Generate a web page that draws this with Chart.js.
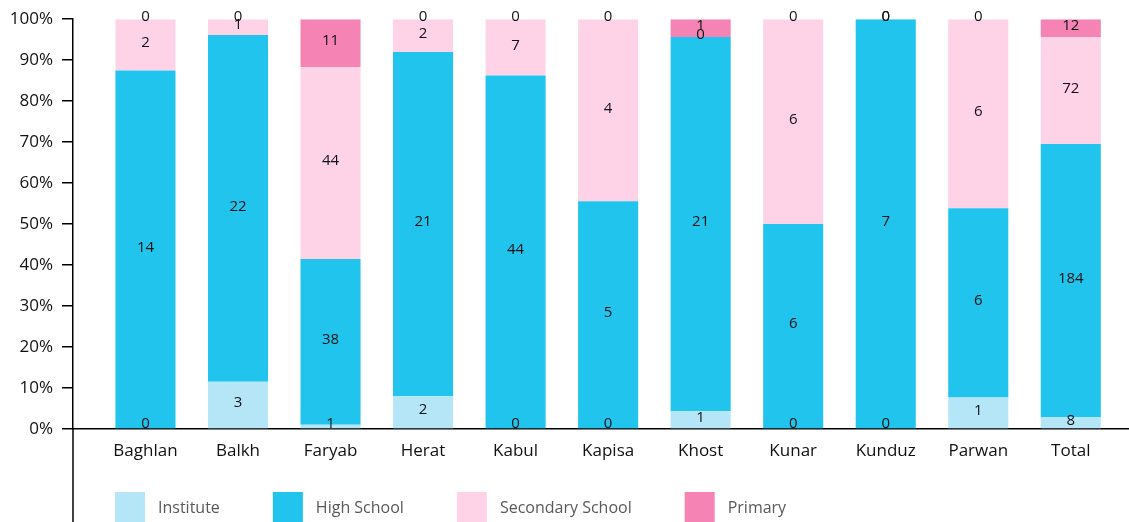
<!DOCTYPE html>
<html lang="en">
<head>
    <meta charset="UTF-8">
    <meta name="viewport" content="width=device-width, initial-scale=1.0">
    <title>Education Level by Province</title>
    <style>
        html, body {
            margin: 0;
            padding: 0;
            background-color: #ffffff;
            overflow: hidden;
        }
        .chart-container {
            position: relative;
            width: 1129px;
            height: 522px;
        }
    </style>
</head>
<body>

    <div class="chart-container">
        <canvas id="eduChart"></canvas>
    </div>

    <script src="https://cdn.jsdelivr.net/npm/chart.js"></script>
    <script>
        // Categories and counts
        const provinces = ['Baghlan', 'Balkh', 'Faryab', 'Herat', 'Kabul', 'Kapisa', 'Khost', 'Kunar', 'Kunduz', 'Parwan', 'Total'];
        const institute = [0, 3, 1, 2, 0, 0, 1, 0, 0, 1, 8];
        const highSchool = [14, 22, 38, 21, 44, 5, 21, 6, 7, 6, 184];
        const secondarySchool = [2, 1, 44, 2, 7, 4, 0, 6, 0, 6, 72];
        const primary = [0, 0, 11, 0, 0, 0, 1, 0, 0, 0, 12];
        const yTicks = [0, 10, 20, 30, 40, 50, 60, 70, 80, 90, 100];

        const seriesNames = ['Institute', 'High School', 'Secondary School', 'Primary'];
        const seriesColors = ['#b5e6f8', '#21c4ed', '#ffd3e7', '#f584b4'];
        const series = [institute, highSchool, secondarySchool, primary];

        // Column totals for the 100% stack
        const totals = provinces.map((p, i) => series.reduce((sum, s) => sum + s[i], 0));

        const datasets = series.map((values, k) => ({
            label: seriesNames[k],
            data: values.map((v, i) => ({ x: i, y: v / totals[i] * 100 })),
            backgroundColor: seriesColors[k],
            borderWidth: 0,
            barPercentage: 0.649,
            categoryPercentage: 1
        }));

        Chart.defaults.font.family = "'Open Sans', sans-serif";

        // Count labels in the middle of each segment
        const countLabels = {
            id: 'countLabels',
            afterDatasetsDraw(chart) {
                const ctx = chart.ctx;
                const area = chart.chartArea;
                ctx.save();
                ctx.font = "15px 'Open Sans', sans-serif";
                ctx.fillStyle = '#111111';
                ctx.textAlign = 'center';
                ctx.textBaseline = 'middle';
                chart.data.datasets.forEach((ds, k) => {
                    const meta = chart.getDatasetMeta(k);
                    meta.data.forEach((bar, i) => {
                        const p = bar.getProps(['x', 'y', 'base'], true);
                        let cy = (p.y + p.base) / 2 - 2;
                        cy = Math.min(cy, area.bottom - 5);
                        ctx.fillText(String(series[k][i]), p.x, cy);
                    });
                });
                ctx.restore();
            }
        };

        // Y axis line runs on past the plot to the bottom edge, legend sits under the labels
        const axisAndLegend = {
            id: 'axisAndLegend',
            afterDraw(chart) {
                const ctx = chart.ctx;
                const area = chart.chartArea;
                ctx.save();
                ctx.strokeStyle = '#000000';
                ctx.lineWidth = 1.5;
                ctx.beginPath();
                ctx.moveTo(area.left, area.bottom);
                ctx.lineTo(area.left, chart.height);
                ctx.stroke();

                ctx.font = "16px 'Open Sans', sans-serif";
                ctx.textBaseline = 'middle';
                ctx.textAlign = 'left';
                let x = 115;
                const y = 492;
                chart.data.datasets.forEach(ds => {
                    ctx.fillStyle = ds.backgroundColor;
                    ctx.fillRect(x, y, 30, 30);
                    ctx.fillStyle = '#595959';
                    ctx.fillText(ds.label, x + 43, y + 16);
                    x += 43 + ctx.measureText(ds.label).width + 53;
                });
                ctx.restore();
            }
        };

        const ctx = document.getElementById('eduChart').getContext('2d');
        new Chart(ctx, {
            type: 'bar',
            data: { datasets: datasets },
            options: {
                responsive: true,
                maintainAspectRatio: false,
                animation: false,
                layout: {
                    padding: { top: 17, right: 0, bottom: 43, left: 0 }
                },
                plugins: {
                    legend: { display: false },
                    tooltip: { enabled: false }
                },
                scales: {
                    x: {
                        type: 'linear',
                        stacked: true,
                        offset: false,
                        bounds: 'data',
                        min: -0.783,
                        max: 10.629,
                        afterBuildTicks: scale => {
                            scale.ticks = provinces.map((p, i) => ({ value: i }));
                        },
                        afterFit: scale => {
                            scale.height = 50;
                        },
                        grid: { display: false },
                        border: { display: true, color: '#000000', width: 1.5 },
                        ticks: {
                            padding: 4,
                            color: '#111111',
                            font: { size: 17 },
                            callback: value => provinces[value]
                        }
                    },
                    y: {
                        stacked: true,
                        min: 0,
                        max: 100,
                        afterBuildTicks: scale => {
                            scale.ticks = yTicks.map(v => ({ value: v }));
                        },
                        afterFit: scale => {
                            scale.width = 73;
                        },
                        grid: {
                            drawOnChartArea: false,
                            drawTicks: true,
                            tickLength: 11,
                            color: '#000000',
                            lineWidth: 1.5
                        },
                        border: { display: true, color: '#000000', width: 1.5 },
                        ticks: {
                            padding: 9,
                            color: '#111111',
                            font: { size: 17 },
                            callback: value => value + '%'
                        }
                    }
                }
            },
            plugins: [countLabels, axisAndLegend]
        });
    </script>
</body>
</html>
